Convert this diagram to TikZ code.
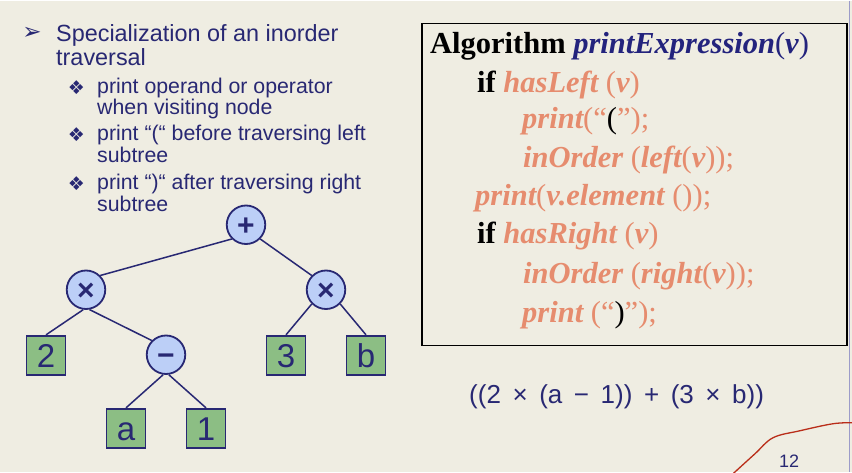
\documentclass[tikz,border=0pt]{standalone}
\usepackage{fontspec}
\setmainfont{Liberation Serif}
\setsansfont{Liberation Sans}
\newfontfamily\symfont{DejaVu Sans}
\newfontfamily\exprfont{Liberation Sans}[WordSpace=1.6]
\definecolor{bg}{RGB}{239,237,226}
\definecolor{ink}{RGB}{40,40,115}
\definecolor{fnname}{RGB}{35,35,125}
\definecolor{salmon}{RGB}{230,140,110}
\definecolor{opfill}{RGB}{188,207,247}
\definecolor{leaffill}{RGB}{140,190,132}
\definecolor{curvecol}{RGB}{185,45,25}
% upright, medium-weight punctuation inside the bold code lines
\newcommand\pn[1]{{\mdseries\upshape #1}}
% bold italic identifier
\newcommand\idf[1]{{\bfseries\itshape #1}}
\begin{document}
\begin{tikzpicture}[x=1pt,y=-1pt,
  mainline/.style={anchor=base west, inner sep=0pt, text=ink,
    font=\sffamily\fontsize{23.4}{28}\selectfont},
  subline/.style={anchor=base west, inner sep=0pt, text=ink,
    font=\sffamily\fontsize{21.3}{25}\selectfont},
  arrowmark/.style={anchor=center, inner sep=0pt, text=ink,
    font=\symfont\fontsize{23}{23}\selectfont},
  diamondmark/.style={anchor=center, inner sep=0pt, text=ink,
    font=\symfont\fontsize{19}{19}\selectfont},
  opnode/.style={circle, draw=ink, line width=1.8pt, fill=opfill,
    minimum size=38.5pt, inner sep=0pt, text=ink, text height=21pt, text depth=0pt,
    font=\sffamily\bfseries\fontsize{30}{30}\selectfont},
  leafnode/.style={rectangle, draw=ink, line width=1.8pt, fill=leaffill,
    minimum size=39pt, inner sep=0pt, text=ink, text height=23.6pt, text depth=0pt,
    font=\sffamily\fontsize{33}{33}\selectfont},
  treeedge/.style={draw=ink, line width=1.5pt},
  codeline/.style={anchor=base west, inner sep=0pt,
    font=\rmfamily\bfseries\fontsize{30.5}{30.5}\selectfont},
  codebox/.style={draw=black, line width=1.5pt}
]
% background and page frame
\fill[bg] (0,0) rectangle (852,471);
\draw[gray!70!blue!60, line width=1.5pt] (849.5,0) -- (849.5,471);
\useasboundingbox (0,0) rectangle (852,471);

% decorative curve in the lower right corner
\draw[curvecol, line width=1.3pt, line cap=round]
  plot[smooth, tension=0.6] coordinates {(733,473) (755,453) (773,437) (800,430) (833,423) (853,422)};

% bullet list
\node[arrowmark] (b0) at (32,33) {➢};
\node[mainline] (t1) at (56,41) {Specialization of an inorder};
\node[mainline] (t2) at (56,65) {traversal};
\node[diamondmark] (d1) at (76.5,87) {❖};
\node[subline] (s1) at (97,93) {print operand or operator};
\node[subline] (s2) at (97,114) {when visiting node};
\node[diamondmark] (d2) at (76.5,134) {❖};
\node[subline] (s3) at (97,140) {print “(“ before traversing left};
\node[subline] (s4) at (97,162) {subtree};
\node[diamondmark] (d3) at (76.5,182.5) {❖};
\node[subline] (s5) at (97,189) {print “)“ after traversing right};
\node[subline] (s6) at (97,211) {subtree};

% algorithm box
\draw[codebox] (422,23) rectangle (847,345);
\node[codeline] (c1) at (430,53) {Algorithm \textcolor{fnname}{\idf{printExpression}\pn{(}\idf{v}\pn{)}}};
\node[codeline] (c2) at (477,92) {if \textcolor{salmon}{\idf{hasLeft} \pn{(}\idf{v}\pn{)}}};
\node[codeline] (c3) at (522,128) {\textcolor{salmon}{\idf{print}\pn{(“\textcolor{black}{(}”);}}};
\node[codeline] (c4) at (523,167) {\textcolor{salmon}{\idf{inOrder} \pn{(}\idf{left}\pn{(}\idf{v}\pn{));}}};
\node[codeline] (c5) at (475,205) {\textcolor{salmon}{\idf{print}\pn{(}\idf{v.element} \pn{());}}};
\node[codeline] (c6) at (477,243) {if \textcolor{salmon}{\idf{hasRight} \pn{(}\idf{v}\pn{)}}};
\node[codeline] (c7) at (523,283) {\textcolor{salmon}{\idf{inOrder} \pn{(}\idf{right}\pn{(}\idf{v}\pn{));}}};
\node[codeline] (c8) at (522,322) {\textcolor{salmon}{\idf{print} \pn{(“\textcolor{black}{)}”);}}};

% expression tree
\node[opnode] (root) at (246,224) {+};
\node[opnode] (lmul) at (86,289) {×};
\node[opnode] (rmul) at (326,289) {×};
\node[opnode] (minus) at (166,354) {−};
\node[leafnode] (two) at (46,354.5) {2};
\node[leafnode] (three) at (286,354.5) {3};
\node[leafnode] (bb) at (366,354.5) {b};
\node[leafnode] (aa) at (126,427.5) {a};
\node[leafnode] (one) at (206,427.5) {1};

\draw[treeedge] (root.225) -- (lmul.45);
\draw[treeedge] (root.-45) -- (rmul.135);
\draw[treeedge] (lmul.262) -- (two.north);
\draw[treeedge] (lmul.280) -- (minus.135);
\draw[treeedge] (minus.262) -- (aa.north);
\draw[treeedge] (minus.278) -- (one.north);
\draw[treeedge] (rmul.225) -- (three.north);
\draw[treeedge] (rmul.-45) -- (bb.north);

% resulting expression and page number
\node[anchor=base west, inner sep=0pt, text=ink, font=\exprfont\fontsize{26}{26}\selectfont]
  (expr) at (469,403) {((2 × (a − 1)) + (3 × b))};
\node[anchor=base west, inner sep=0pt, text=ink, font=\sffamily\fontsize{18}{18}\selectfont]
  (page) at (779,467) {12};
\end{tikzpicture}
\end{document}
